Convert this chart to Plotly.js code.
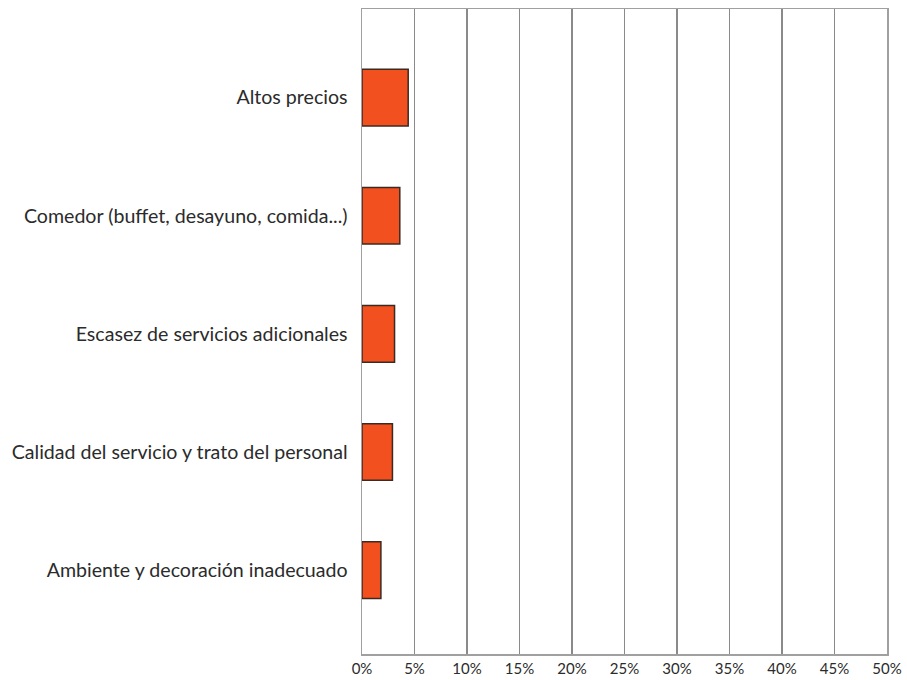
<!DOCTYPE html>
<html>
<head>
<meta charset="utf-8">
<script src="https://cdn.plot.ly/plotly-3.0.1.min.js"></script>
<style>html,body{margin:0;padding:0;background:#fff;}#chart{width:907px;height:680px;}</style>
</head>
<body>
<div id="chart"></div>
<script>
const categories = [
  "Ambiente y decoración inadecuado",
  "Calidad del servicio y trato del personal",
  "Escasez de servicios adicionales",
  "Comedor (buffet, desayuno, comida...)",
  "Altos precios"
];
const values = [0.018, 0.029, 0.031, 0.036, 0.044];
const xTickVals = [0, 0.05, 0.10, 0.15, 0.20, 0.25, 0.30, 0.35, 0.40, 0.45, 0.50];
const xTickText = ["0%", "5%", "10%", "15%", "20%", "25%", "30%", "35%", "40%", "45%", "50%"];

const trace = {
  type: "bar",
  orientation: "h",
  x: values,
  y: categories,
  width: 0.48,
  marker: { color: "#F2501F", line: { color: "#3b2a22", width: 1.5 } },
  hoverinfo: "x+y"
};

const layout = {
  width: 907, height: 680,
  margin: { l: 362, r: 20, t: 9, b: 26, pad: 0 },
  paper_bgcolor: "#ffffff",
  plot_bgcolor: "#ffffff",
  showlegend: false,
  font: { family: "Lato, 'DejaVu Sans', sans-serif", color: "#2b2b2b" },
  xaxis: {
    range: [0, 0.5],
    tickvals: xTickVals,
    ticktext: xTickText,
    showgrid: true,
    gridcolor: "#8a8a8a",
    gridwidth: 1.5,
    zeroline: false,
    showline: true,
    linecolor: "#a0a0a0",
    linewidth: 1.5,
    mirror: true,
    ticks: "",
    ticklabelstandoff: 0,
    tickfont: { size: 15, color: "#2b2b2b" },
    fixedrange: true
  },
  yaxis: {
    type: "category",
    range: [-0.71, 4.75],
    showgrid: false,
    zeroline: false,
    showline: true,
    linecolor: "#a0a0a0",
    linewidth: 1.5,
    mirror: true,
    ticks: "",
    ticklabelstandoff: 9,
    tickfont: { size: 19.6, color: "#2b2b2b" },
    fixedrange: true
  },
  bargap: 0.5
};

Plotly.newPlot("chart", [trace], layout, { displayModeBar: false, staticPlot: true });
</script>
</body>
</html>
